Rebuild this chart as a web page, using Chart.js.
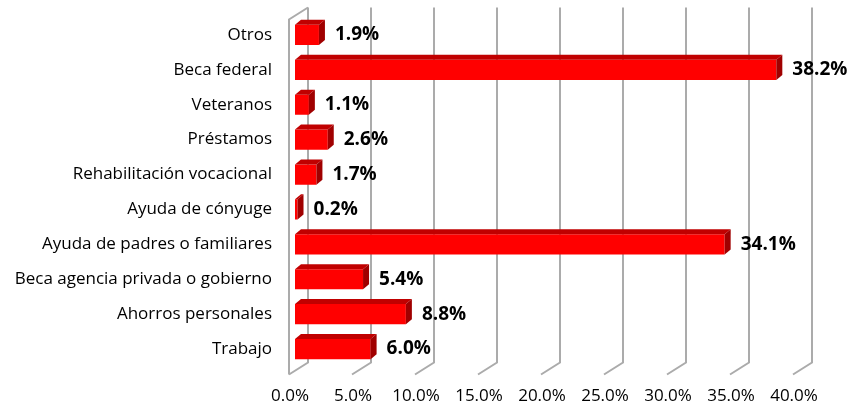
<!DOCTYPE html>
<html>
<head>
<meta charset="utf-8">
<script src="https://cdn.jsdelivr.net/npm/chart.js@4"></script>
<style>
  html,body{margin:0;padding:0;background:#fff;}
  #wrap{width:859px;height:410px;position:relative;}
</style>
</head>
<body>
<div id="wrap"><canvas id="c"></canvas></div>
<script>
/* ---- data ---- */
const categories = ['Otros','Beca federal','Veteranos','Préstamos','Rehabilitación vocacional',
  'Ayuda de cónyuge','Ayuda de padres o familiares','Beca agencia privada o gobierno',
  'Ahorros personales','Trabajo'];
const values = [1.9, 38.2, 1.1, 2.6, 1.7, 0.2, 34.1, 5.4, 8.8, 6.0];
const xTicks = [0,5,10,15,20,25,30,35,40];

const FONT = '"Open Sans"';
const D = {dx:6, dy:-5};   // bar depth

/* ---- fake 3d walls + gridlines ---- */
const walls = {
  id:'walls',
  beforeDatasetsDraw(chart){
    const {ctx, chartArea:a, scales:{x}} = chart;
    ctx.save();
    ctx.strokeStyle = '#ababab';
    ctx.lineWidth = 2;
    xTicks.forEach(v=>{
      const xb = x.getPixelForValue(v) + 13;
      ctx.beginPath();
      ctx.moveTo(xb, a.top - 10);
      ctx.lineTo(xb, a.bottom - 4);
      ctx.lineTo(xb - 19, a.bottom + 8);
      ctx.stroke();
    });
    // left wall
    const x0 = x.getPixelForValue(0);
    ctx.beginPath();
    ctx.moveTo(x0 + 13, a.top - 10);
    ctx.lineTo(x0 - 6, a.top + 2);
    ctx.lineTo(x0 - 6, a.bottom + 8);
    ctx.stroke();
    ctx.restore();
  },
  afterDatasetsDraw(chart){
    const {ctx} = chart;
    const meta = chart.getDatasetMeta(0);
    ctx.save();
    meta.data.forEach((b,i)=>{
      const {x:x1, y, base:x0, height:h} = b.getProps(['x','y','base','height'], true);
      const t = y - h/2, btm = y + h/2;
      // top face
      ctx.fillStyle = '#c00000';
      ctx.beginPath();
      ctx.moveTo(x0, t); ctx.lineTo(x0 + D.dx, t + D.dy);
      ctx.lineTo(x1 + D.dx, t + D.dy); ctx.lineTo(x1, t);
      ctx.closePath(); ctx.fill();
      // side face
      ctx.fillStyle = '#a00000';
      ctx.beginPath();
      ctx.moveTo(x1, t); ctx.lineTo(x1 + D.dx, t + D.dy);
      ctx.lineTo(x1 + D.dx, btm + D.dy); ctx.lineTo(x1, btm);
      ctx.closePath(); ctx.fill();
      // value label
      ctx.fillStyle = '#000';
      ctx.font = 'bold 19px ' + FONT;
      ctx.textBaseline = 'middle';
      ctx.textAlign = 'left';
      ctx.fillText(values[i].toFixed(1) + '%', x1 + D.dx + 10, y);
    });
    ctx.restore();
  }
};

/* ---- chart ---- */
new Chart(document.getElementById('c'),{
  type:'bar',
  data:{labels:categories, datasets:[{data:values, backgroundColor:'#ff0000',
    categoryPercentage:1, barPercentage:0.58}]},
  options:{
    indexAxis:'y',
    responsive:true, maintainAspectRatio:false, animation:false,
    layout:{padding:{top:17.5, right:60, left:0, bottom:0}},
    plugins:{legend:{display:false}, tooltip:{enabled:false}},
    scales:{
      x:{min:0, max:40,
        grid:{display:false, drawTicks:false}, border:{display:false},
        afterBuildTicks(s){ s.ticks = xTicks.map(v=>({value:v})); },
        afterFit(s){ s.height = 43.5; s.paddingLeft = 0; s.paddingRight = 0; },
        ticks:{padding:19, labelOffset:-5, color:'#000', maxRotation:0, autoSkip:false,
          font:{family:FONT, size:17, weight:'500'},
          callback:v=>v.toFixed(1)+'%'}},
      y:{
        grid:{display:false, drawTicks:false}, border:{display:false},
        afterFit(s){ s.width = 295; s.paddingTop = 0; s.paddingBottom = 0; },
        ticks:{padding:23, color:'#000', autoSkip:false,
          font:{family:FONT, size:17, weight:'500'}}}
    }
  },
  plugins:[walls]
});
</script>
</body>
</html>
